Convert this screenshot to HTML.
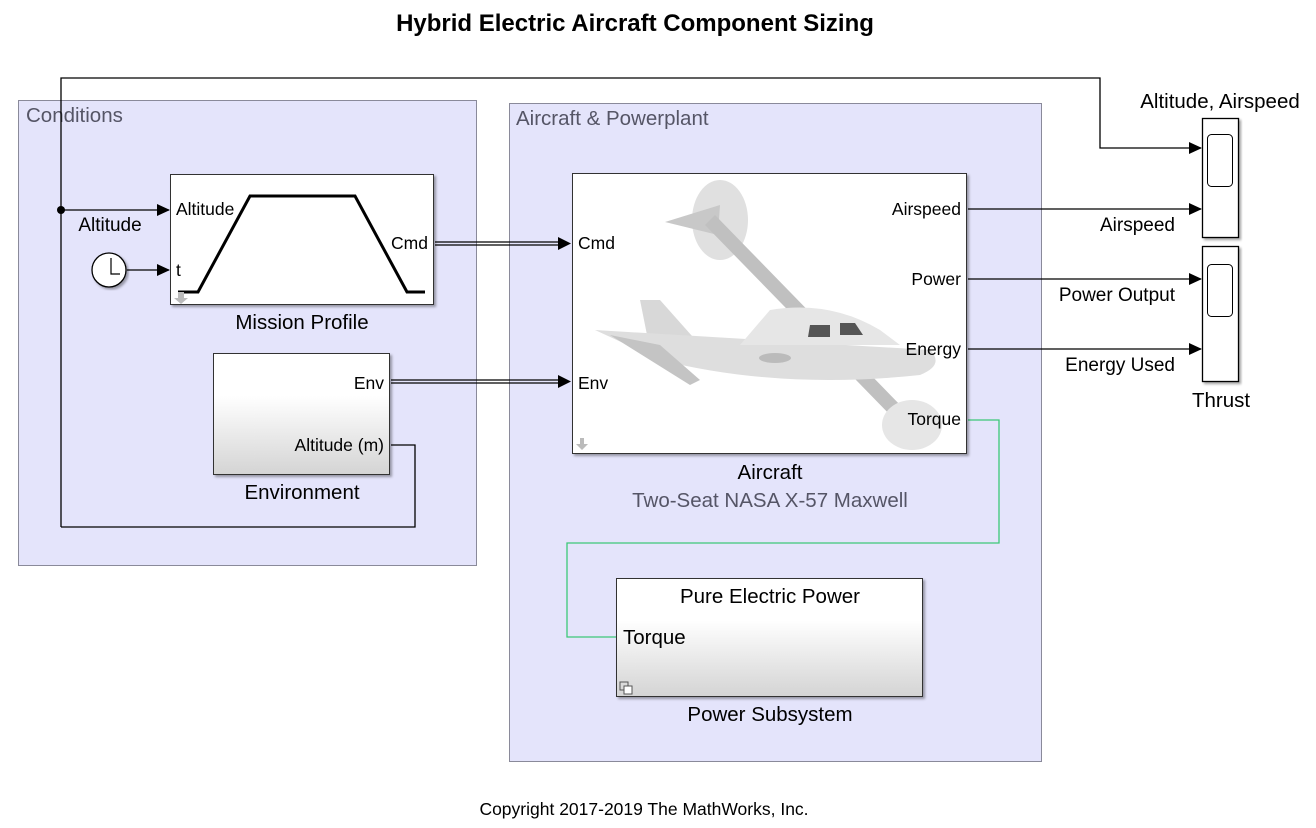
<!DOCTYPE html>
<html><head><meta charset="utf-8"><style>
body{margin:0;background:#fff;}
svg{display:block;font-family:"Liberation Sans",Arial,sans-serif;}
</style></head><body>
<svg width="1316" height="828" viewBox="0 0 1316 828">
<defs>
<linearGradient id="g" x1="0" y1="0" x2="0" y2="1"><stop offset="0.35" stop-color="#fff"/><stop offset="1" stop-color="#d4d4d4"/></linearGradient>
<marker id="a" markerWidth="13" markerHeight="12" refX="12" refY="6" orient="auto" markerUnits="userSpaceOnUse"><path d="M0,0 L13,6 L0,12Z" fill="#000"/></marker>
<filter id="s" x="-5%" y="-5%" width="115%" height="115%"><feDropShadow dx="2" dy="2" stdDeviation="1.2" flood-color="#000" flood-opacity="0.35"/></filter>
</defs>
<text x="635" y="31" font-size="24" font-weight="bold" text-anchor="middle">Hybrid Electric Aircraft Component Sizing</text>

<rect x="18.5" y="100.5" width="458" height="465" fill="#e4e4fb" stroke="#8a8a9a"/>
<text x="26" y="122" font-size="20.5" fill="#555566">Conditions</text>
<rect x="509.5" y="103.5" width="532" height="658" fill="#e4e4fb" stroke="#8a8a9a"/>
<text x="516" y="125" font-size="20.5" fill="#555566">Aircraft &amp; Powerplant</text>

<g fill="none" stroke="#000" stroke-width="1.3">
<path d="M61,527 V78 H1100 V148 H1201" marker-end="url(#a)"/>
<path d="M61,210 H169" marker-end="url(#a)"/>
<path d="M127,270 H169" marker-end="url(#a)"/>
<path d="M61,527 H415 V445 H391"/>
<path d="M968,209 H1201" marker-end="url(#a)"/>
<path d="M968,279 H1201" marker-end="url(#a)"/>
<path d="M968,349 H1201" marker-end="url(#a)"/>
<path d="M435,242 H560 M435,245 H560" />
<path d="M391,380 H560 M391,383 H560"/>
</g>
<path d="M558,237 L571,243.5 L558,250Z" fill="#000"/>
<path d="M558,375 L571,381.5 L558,388Z" fill="#000"/>
<circle cx="61" cy="210" r="4" fill="#000"/>
<path d="M968,420 H999 V543 H567 V637 H616" fill="none" stroke="#3cc878" stroke-width="1.3"/>

<circle cx="109" cy="270" r="17" fill="#fff" stroke="#000" stroke-width="1.3" filter="url(#s)"/>
<path d="M111,258 V274 H120" fill="none" stroke="#000" stroke-width="1.2"/>

<rect x="170.5" y="174.5" width="263" height="130" fill="#fff" stroke="#333" filter="url(#s)"/>
<path d="M178,292 H198 L250,196 H355 L407,292 H425" fill="none" stroke="#000" stroke-width="3"/>
<text x="176" y="215" font-size="17.5">Altitude</text>
<text x="176" y="276" font-size="17.5">t</text>
<text x="428" y="249" font-size="17.5" text-anchor="end">Cmd</text>
<path d="M178,292 h6 v6 h4 l-7,6 l-7,-6 h4z" fill="#bbb"/>
<text x="302" y="329" font-size="20.5" text-anchor="middle">Mission Profile</text>
<text x="110" y="231" font-size="19" text-anchor="middle">Altitude</text>

<rect x="213.5" y="353.5" width="176" height="121" fill="url(#g)" stroke="#333" filter="url(#s)"/>
<text x="384" y="389" font-size="17.5" text-anchor="end">Env</text>
<text x="384" y="451" font-size="17.5" text-anchor="end">Altitude (m)</text>
<text x="302" y="499" font-size="20.5" text-anchor="middle">Environment</text>

<rect x="572.5" y="173.5" width="394" height="280" fill="#fff" stroke="#333" filter="url(#s)"/>
<g>
<ellipse cx="720" cy="220" rx="28" ry="40" fill="#e0e0e0"/>
<path d="M665,222 L720,205 L718,235Z" fill="#c8c8c8"/>
<path d="M705,225 L895,420 L905,410 L715,215Z" fill="#c0c0c0"/>
<path d="M640,300 L660,300 L700,345 L650,350Z" fill="#d8d8d8"/>
<path d="M595,330 L930,350 Q945,365 920,375 Q780,390 660,360Z" fill="#dedede"/>
<path d="M610,335 L690,385 L700,380 L660,345Z" fill="#c4c4c4"/>
<path d="M770,310 Q830,300 880,330 L900,345 L740,345Z" fill="#e6e6e6"/>
<path d="M810,325 h20 v12 h-22z M840,323 h15 l8,12 h-23z" fill="#555"/>
<ellipse cx="775" cy="358" rx="16" ry="5" fill="#bbb"/>
<ellipse cx="912" cy="425" rx="30" ry="25" fill="#e6e6e6"/>
</g>
<text x="961" y="215" font-size="17.5" text-anchor="end">Airspeed</text>
<text x="961" y="285" font-size="17.5" text-anchor="end">Power</text>
<text x="961" y="355" font-size="17.5" text-anchor="end">Energy</text>
<text x="961" y="425" font-size="17.5" text-anchor="end">Torque</text>
<text x="578" y="249" font-size="17.5">Cmd</text>
<text x="578" y="389" font-size="17.5">Env</text>
<path d="M580,438 h4 v6 h4 l-6,6 l-6,-6 h4z" fill="#bbb"/>
<text x="770" y="479" font-size="20.5" text-anchor="middle">Aircraft</text>
<text x="770" y="507" font-size="20.5" text-anchor="middle" fill="#555566">Two-Seat NASA X-57 Maxwell</text>

<rect x="616.5" y="578.5" width="306" height="118" fill="url(#g)" stroke="#333" filter="url(#s)"/>
<text x="770" y="603" font-size="20.5" text-anchor="middle">Pure Electric Power</text>
<text x="623" y="644" font-size="20.5">Torque</text>
<rect x="620" y="682" width="8" height="8" fill="none" stroke="#555"/><rect x="624" y="686" width="8" height="8" fill="#fff" stroke="#555"/>
<text x="770" y="721" font-size="20.5" text-anchor="middle">Power Subsystem</text>

<rect x="1202.5" y="118.5" width="36" height="119" fill="#fff" stroke="#000" stroke-width="1.3" filter="url(#s)"/>
<rect x="1207.5" y="134.5" width="25" height="52" rx="4" fill="#fff" stroke="#000"/>
<rect x="1202.5" y="246.5" width="36" height="135" fill="#fff" stroke="#000" stroke-width="1.3" filter="url(#s)"/>
<rect x="1207.5" y="264.5" width="25" height="52" rx="4" fill="#fff" stroke="#000"/>
<text x="1220" y="108" font-size="20.5" text-anchor="middle">Altitude, Airspeed</text>
<text x="1221" y="407" font-size="20.5" text-anchor="middle">Thrust</text>
<text x="1175" y="231" font-size="19" text-anchor="end">Airspeed</text>
<text x="1175" y="301" font-size="19" text-anchor="end">Power Output</text>
<text x="1175" y="371" font-size="19" text-anchor="end">Energy Used</text>

<text x="644" y="815" font-size="17.5" text-anchor="middle">Copyright 2017-2019 The MathWorks, Inc.</text>
</svg>
</body></html>
